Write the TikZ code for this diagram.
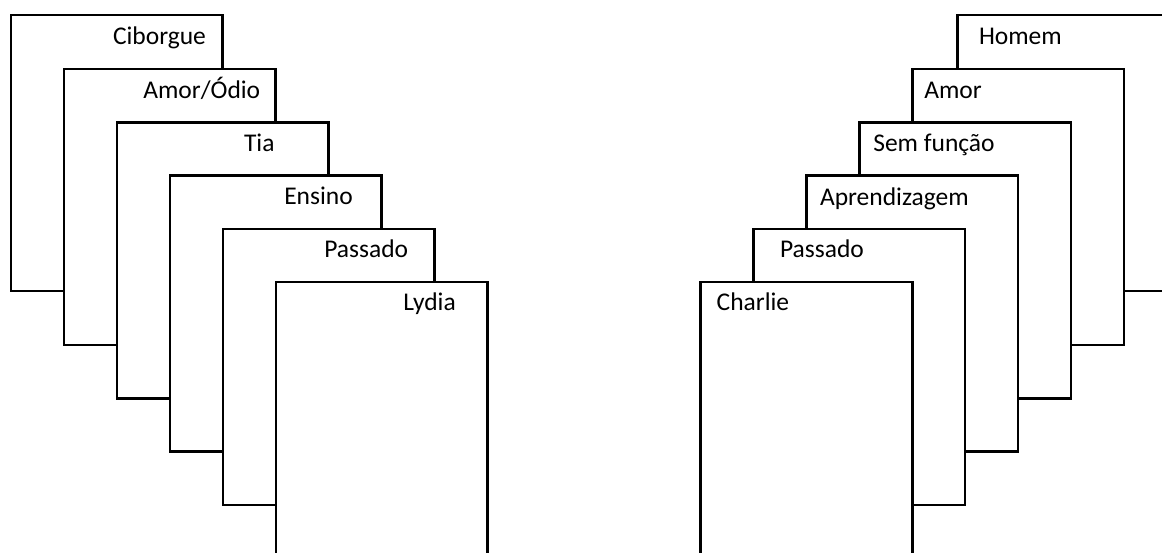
\documentclass[tikz,border=0pt]{standalone}
\usepackage{fontspec}
\setmainfont{Carlito}
\begin{document}
\begin{tikzpicture}[x=1pt,y=-1pt,
  card/.style={draw=black, fill=white, line width=2.6pt, rectangle, inner sep=0pt, outer sep=0pt,
    minimum width=211.5pt, minimum height=276pt, anchor=north west},
  lbl/.style={inner sep=0pt, outer sep=0pt, anchor=base west, font=\fontsize{25.5}{30}\selectfont}]
\useasboundingbox (0,0) rectangle (1162,553);
\begin{scope}
\clip (0,0) rectangle (1162,553);
% left stack (back to front)
\node[card] (L1) at (11,15) {};
\node[lbl] (tL1) at (113,45) {Ciborgue};
\node[card] (L2) at (64,69) {};
\node[lbl] (tL2) at (143.3,98.5) {Amor/Ódio};
\node[card] (L3) at (117,122.5) {};
\node[lbl] (tL3) at (244,152) {Tia};
\node[card] (L4) at (170,175.7) {};
\node[lbl] (tL4) at (284.3,205) {Ensino};
\node[card] (L5) at (223,229) {};
\node[lbl] (tL5) at (324.3,257.3) {Passado};
\node[card] (L6) at (276,282) {};
\node[lbl] (tL6) at (403.3,311) {Lydia};
% right stack (back to front)
\node[card] (R1) at (957.7,15) {};
\node[lbl] (tR1) at (979,45) {Homem};
\node[card] (R2) at (912.3,69) {};
\node[lbl] (tR2) at (924.3,99) {Amor};
\node[card] (R3) at (859.3,122.5) {};
\node[lbl] (tR3) at (873.3,151.7) {Sem função};
\node[card] (R4) at (806.5,175.7) {};
\node[lbl] (tR4) at (820,206) {Aprendizagem};
\node[card] (R5) at (753.5,229) {};
\node[lbl] (tR5) at (780,257.3) {Passado};
\node[card] (R6) at (700.7,282) {};
\node[lbl] (tR6) at (716.7,311) {Charlie};
\end{scope}
\end{tikzpicture}
\end{document}
